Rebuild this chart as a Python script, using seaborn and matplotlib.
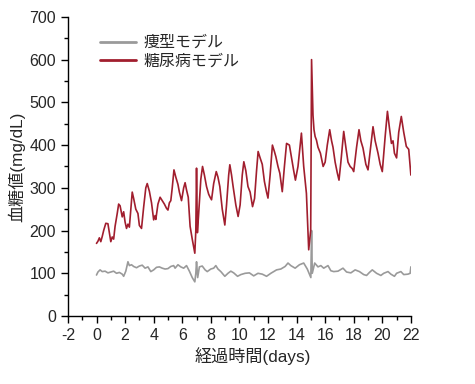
import numpy as np
import pandas as pd
import seaborn as sns
import matplotlib.pyplot as plt
from matplotlib.ticker import MultipleLocator

# === データ ===
lean_days = [0.0, 0.1, 0.25, 0.4, 0.6, 0.8, 1.0, 1.2, 1.4, 1.6, 1.8, 1.9, 2.05, 2.2, 2.3,
             2.45, 2.6, 2.8, 3.0, 3.2, 3.4, 3.6, 3.8, 4.0, 4.2, 4.4, 4.6, 4.8, 5.0, 5.2,
             5.4, 5.5, 5.7, 5.9, 6.1, 6.3, 6.5, 6.7, 6.88, 6.95, 7.0, 7.08, 7.2, 7.4, 7.6,
             7.75, 8.0, 8.2, 8.35, 8.5, 8.7, 8.98, 9.2, 9.4, 9.6, 9.87, 10.1, 10.4, 10.7,
             11.0, 11.3, 11.6, 11.9, 12.2, 12.6, 12.9, 13.2, 13.4, 13.6, 13.9, 14.2, 14.5,
             14.75, 15.0, 15.05, 15.1, 15.27, 15.5, 15.7, 15.9, 16.2, 16.4, 16.6, 16.9,
             17.25, 17.5, 17.8, 18.1, 18.4, 18.7, 18.9, 19.1, 19.3, 19.6, 19.9, 20.1, 20.4,
             20.6, 20.85, 21.0, 21.3, 21.5, 21.8, 21.95, 22.0]
lean_glucose = [96, 103, 108, 104, 105, 101, 103, 105, 100, 102, 98, 93, 105, 127, 118,
                120, 116, 113, 117, 119, 112, 115, 104, 108, 114, 115, 112, 110, 111, 116,
                118, 112, 120, 115, 112, 118, 105, 90, 80, 100, 127, 90, 115, 117, 108,
                104, 110, 112, 118, 110, 104, 93, 100, 105, 101, 93, 97, 100, 101,
                94, 100, 98, 93, 100, 108, 110, 116, 124, 118, 112, 120, 124,
                110, 90, 200, 100, 124, 115, 118, 112, 118, 106, 104, 105,
                112, 103, 101, 108, 104, 97, 95, 102, 108, 100, 95, 100, 104,
                98, 93, 100, 104, 97, 98, 100, 115]

db_days = [0.0, 0.1, 0.2, 0.3, 0.4, 0.5, 0.65, 0.8, 0.9, 1.0, 1.1, 1.2, 1.3, 1.45, 1.55,
           1.65, 1.8, 1.9, 2.0, 2.1, 2.2, 2.3, 2.5, 2.6, 2.75, 2.9, 3.0, 3.15, 3.3, 3.45,
           3.55, 3.7, 3.85, 4.0, 4.1, 4.15, 4.3, 4.45, 4.6, 4.75, 4.9, 5.0, 5.1, 5.2, 5.3,
           5.42, 5.55, 5.7, 5.8, 5.95, 6.1, 6.2, 6.3, 6.42, 6.55, 6.7, 6.88, 6.95, 7.0,
           7.06, 7.15, 7.3, 7.42, 7.55, 7.7, 7.85, 7.95, 8.05, 8.2, 8.38, 8.5, 8.63, 8.8,
           8.98, 9.1, 9.25, 9.33, 9.45, 9.56, 9.75, 9.91, 10.05, 10.2, 10.31, 10.45, 10.6,
           10.75, 10.92, 11.06, 11.2, 11.31, 11.45, 11.6, 11.75, 11.9, 12.0, 12.15, 12.31,
           12.45, 12.55, 12.7, 12.83, 13.0, 13.15, 13.3, 13.5, 13.65, 13.8, 13.92, 14.1,
           14.3, 14.34, 14.5, 14.69, 14.85, 14.99, 15.05, 15.15, 15.22, 15.3, 15.39, 15.5,
           15.67, 15.86, 16.0, 16.15, 16.32, 16.45, 16.55, 16.7, 16.85, 16.97, 17.1, 17.3,
           17.45, 17.6, 17.75, 17.9, 18.0, 18.2, 18.37, 18.5, 18.65, 18.85, 19.0, 19.2,
           19.35, 19.5, 19.7, 19.85, 20.0, 20.2, 20.36, 20.5, 20.64, 20.75, 20.85, 21.0,
           21.15, 21.33, 21.5, 21.68, 21.85, 22.0]
db_glucose = [170, 175, 183, 174, 186, 200, 217, 216, 195, 174, 185, 180, 210, 240, 262,
              258, 232, 244, 220, 205, 215, 208, 290, 275, 250, 240, 212, 205, 255, 300,
              310, 292, 265, 225, 235, 226, 262, 278, 270, 262, 252, 248, 265, 270, 300,
              342, 325, 308, 290, 270, 300, 312, 295, 278, 210, 180, 147, 200, 346,
              195, 240, 320, 350, 330, 303, 285, 278, 272, 310, 338, 325, 303, 250,
              213, 260, 330, 354, 330, 303, 260, 233, 260, 330, 361, 340, 303,
              290, 256, 275, 340, 385, 370, 355, 315, 290, 276, 330, 400,
              385, 373, 350, 334, 291, 350, 404, 400, 370, 340, 318, 350,
              415, 428, 350, 287, 155, 201, 600, 470, 436, 420, 412, 395,
              381, 350, 360, 400, 436, 410, 395, 360, 335, 318, 360, 432,
              395, 360, 350, 345, 338, 395, 436, 410, 393, 355, 342, 400,
              443, 410, 381, 355, 338, 420, 479, 440, 404, 410, 381, 370,
              430, 467, 430, 397, 390, 330]

series_labels = ["痩型モデル", "糖尿病モデル"]
colors = ["#9a9a9a", "#a11e2e"]

sns.set_style("ticks")
plt.rcParams["font.family"] = ["Liberation Sans", "Noto Sans CJK JP", "DejaVu Sans"]
plt.rcParams["axes.unicode_minus"] = False

fig = plt.figure(figsize=(4.75, 3.84), dpi=100)
ax = fig.add_axes([0.143, 0.177, 0.722, 0.779])

sns.lineplot(x=lean_days, y=lean_glucose, ax=ax, color=colors[0], lw=1.2,
             label=series_labels[0], estimator=None, sort=False)
sns.lineplot(x=db_days, y=db_glucose, ax=ax, color=colors[1], lw=1.2,
             label=series_labels[1], estimator=None, sort=False)

ax.set_xlim(-2, 22)
ax.set_ylim(0, 700)
ax.xaxis.set_major_locator(MultipleLocator(2))
ax.xaxis.set_minor_locator(MultipleLocator(1))
ax.yaxis.set_major_locator(MultipleLocator(100))
ax.yaxis.set_minor_locator(MultipleLocator(50))
ax.tick_params(which="major", direction="out", length=5, width=1, labelsize=11.5, color="black")
ax.tick_params(which="minor", direction="out", length=3, width=1, color="black")
for s in ["left", "bottom"]:
    ax.spines[s].set_color("black")
    ax.spines[s].set_linewidth(1)
sns.despine(ax=ax)

ax.set_xlabel("経過時間(days)", fontsize=12.3, labelpad=4)
ax.xaxis.set_label_coords(0.54, -0.105)
ax.set_ylabel("血糖値(mg/dL)", fontsize=12.3, labelpad=3)

leg = ax.legend(loc="upper left", bbox_to_anchor=(0.052, 0.987), frameon=False,
                fontsize=11.5, handlelength=2.25, handletextpad=0.45, labelspacing=0.2)
for line in leg.get_lines():
    line.set_linewidth(2)

fig.savefig("out.png", dpi=100)
